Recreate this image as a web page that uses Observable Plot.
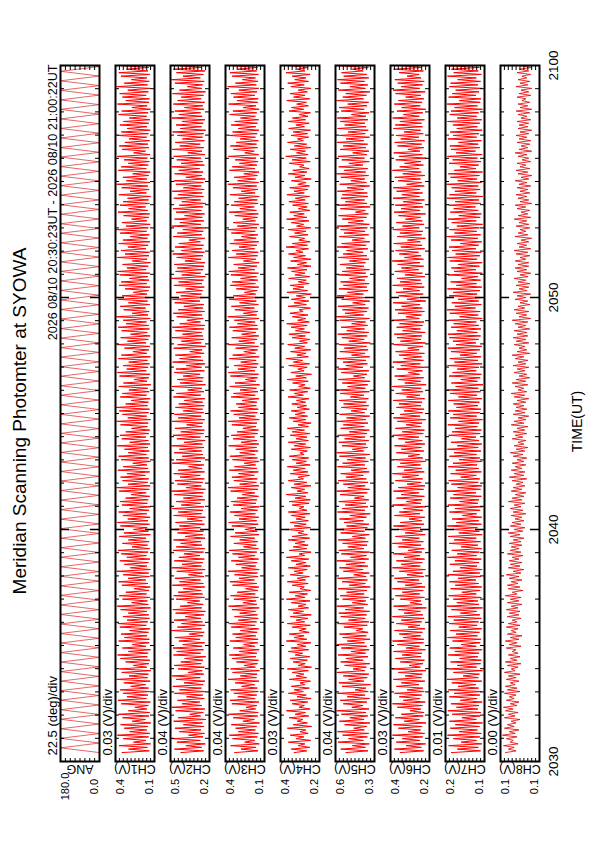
<!DOCTYPE html>
<html><head><meta charset="utf-8">
<script src="https://cdn.jsdelivr.net/npm/d3@7"></script>
<script src="https://cdn.jsdelivr.net/npm/@observablehq/plot@0.6"></script>
<style>
html,body{margin:0;padding:0;background:#fff;width:595px;height:842px;overflow:hidden;}
#rot{position:absolute;left:0;top:0;width:842px;height:595px;transform-origin:0 0;transform:translate(0px,842px) rotate(-90deg);font-family:"Liberation Sans",Arial,sans-serif;background:#fff;}
#title{position:absolute;left:0;width:842px;top:9px;text-align:center;font-size:19px;color:#000;}
#rot svg{position:absolute;left:0;}
</style></head><body>
<div id="rot"><div id="title">Meridian Scanning Photomter at SYOWA</div></div>
<script>
const headerText = "2026 08/10 20:30:23UT - 2026 08/10 21:00:22UT";
const panelNames = ["ANG","CH1(V)","CH2(V)","CH3(V)","CH4(V)","CH5(V)","CH6(V)","CH7(V)","CH8(V)"];
const divLabels = ["22.5 (deg)/div","0.03 (V)/div","0.04 (V)/div","0.04 (V)/div","0.03 (V)/div","0.04 (V)/div","0.03 (V)/div","0.01 (V)/div","0.00 (V)/div"];
const topLabels = ["180.0","0.4","0.5","0.4","0.4","0.6","0.4","0.2","0.1"];
const bottomLabels = ["0.0","0.1","0.2","0.1","0.2","0.3","0.2","0.1","0.1"];
const yMin = [0,0.1,0.2,0.1,0.2,0.3,0.2,0.1,0.09];
const yMax = [180,0.4,0.5,0.4,0.4,0.6,0.4,0.2,0.13];
const divisions = [8,10,10,10,10,10,10,10,10];
const timeTickLabels = ["2030","2040","2050","2100"];
const timeAxisLabel = "TIME(UT)";

// scan angle (deg), turning points sampled evenly from 20:30:23 to 21:00:22
const angValues = [
0,180,0,180,0,180,0,180,0,180,0,180,0,180,0,180,0,180,0,180,
0,180,0,180,0,180,0,180,0,180,0,180,0,180,0,180,0,180,0,180,
0,180,0,180,0,180,0,180,0,180,0,180,0,180,0,180,0,180,0,180,
0,180,0,180,0,180,0,180,0,180,0,180,0,180,0,180,0,180,0,180,
0,180,0,180,0,180,0,180,0,180,0,180,0,180,0,180,0,180,0,180,
0,180,0,180,0,180,0,180,0,180,0,180,0,180,0,180,0,180,0,180,
0,180,0,180,0,180,0,180,0,180,0,180,0,180,0,180,0,180,0,180,
0,180,0,180,0,180,0];

// channel samples in mV: alternating scan peak (Hi) and background (Lo)
const ch1Hi = [350,300,372,262,341,386,291,333,361,272,346,377,301,251,356,381,312,342,366,283,
336,391,296,352,371,263,322,362,384,302,347,271,376,331,357,292,367,382,311,343,
302,361,387,276,346,372,321,256,351,377,303,341,389,286,332,367,313,356,381,273,
347,301,371,336,262,362,386,306,343,376,292,351,366,322,281,372,392,303,346,361,
312,382,341,267,357,376,302,331,386,291,352,366,321,277,362,391,306,347,371,396,
322,281,364,348,297,375,339,258,369,386,314,342,298,378,355,266,331,388,309,361,
284,353,379,318,341,392,272,337,364,301,382,349,263,326,373,357,293,368,384,312,
346,271,389,327,358,305,376,343,287,364,395,319,351,276,338,381,299,366,342,308,
374,288,352,391,316,343,268,379,357,302,335,387,261,349,372,328,296,383,355,311,
366,339,294,377,352,274,385,321,347,368,306,393,333,279,358,374,315,345,389,302];
const ch1Lo = [140,155,130,165,145,135,160,150,128,170,142,138,158,148,132,162,150,137,145,168,
133,152,147,129,160,143,136,155,149,131,166,141,139,157,146,134,163,151,138,144,
159,130,148,154,136,161,142,133,150,167,139,145,131,158,147,135,162,149,137,153,
141,165,132,146,156,138,150,134,160,143,129,155,148,136,164,140,133,152,145,170,
137,149,158,131,144,162,139,151,134,147,166,142,136,155,148,130,160,145,138,153,
146,133,161,140,152,128,157,144,135,163,149,138,154,131,159,143,136,165,147,134,
156,139,145,162,132,150,141,168,137,153,129,158,146,134,160,142,151,136,164,148,
131,157,143,138,166,149,135,154,140,161,147,133,159,144,137,152,168,139,145,130,
162,141,150,136,158,145,132,163,148,139,155,134,169,143,151,137,160,146,133,157,
144,135,160,149,131,156,142,138,164,147,134,153,140,159,136,150,145,132,161,143];
const ch2Hi = [420,470,382,451,486,361,432,466,401,476,441,352,461,491,412,446,377,471,431,482,
396,456,487,366,442,472,421,391,477,452,481,406,436,467,356,492,447,416,472,386,
461,482,426,371,457,476,442,402,486,431,466,362,452,490,411,471,436,397,481,456,
422,477,387,446,491,432,462,372,476,441,486,417,457,401,471,492,381,447,466,426,
476,442,361,486,457,411,472,432,491,396,451,481,421,466,376,487,441,471,402,462,
437,394,478,455,368,489,426,447,403,472,458,379,484,431,463,352,476,445,417,490,
408,463,486,429,374,452,479,441,397,468,487,421,456,383,474,438,492,414,461,447,
471,389,452,483,417,466,436,358,479,448,405,487,428,469,392,457,481,433,413,475,
443,486,401,459,474,382,468,437,491,418,452,476,367,488,429,463,409,447,484,425,
458,412,489,436,467,393,478,445,418,485,431,371,466,492,404,454,479,427,461,439];
const ch2Lo = [245,260,232,270,250,238,265,242,255,230,268,247,236,258,274,240,252,233,262,248,
235,271,244,256,239,263,250,229,267,246,257,237,272,249,241,261,234,254,266,243,
231,259,248,275,238,253,264,236,247,269,242,255,233,262,250,240,273,245,237,258,
265,234,251,246,270,239,256,232,261,249,243,268,236,254,247,231,263,252,240,271,
238,257,244,266,235,250,260,242,255,233,269,246,239,258,251,236,264,244,253,240,
252,237,267,243,259,230,254,247,272,239,261,234,249,266,241,256,228,263,245,251,
260,243,235,269,248,257,238,251,244,273,236,262,253,240,258,246,231,267,249,242,
234,264,250,239,257,245,270,237,259,248,232,266,243,255,238,262,251,229,268,246,
256,241,263,247,233,259,249,276,240,252,265,236,258,244,271,239,254,245,230,261,
248,235,257,268,242,251,237,264,246,231,259,253,240,270,247,234,262,250,243,256];
const ch3Hi = [330,281,361,252,346,371,301,322,356,266,341,376,291,242,351,366,306,336,361,276,
326,381,286,346,362,256,316,351,371,296,341,261,366,321,346,286,356,376,301,331,
291,351,376,266,336,361,311,246,346,366,296,331,381,276,321,356,301,346,371,261,
336,291,361,326,251,351,376,296,331,366,281,341,356,311,271,361,381,291,336,351,
301,371,331,256,346,366,291,321,376,281,341,356,311,266,351,381,296,336,361,301,
318,272,357,339,288,368,327,247,362,378,305,334,283,371,345,259,322,379,298,352,
276,344,369,308,332,383,263,328,355,292,373,340,254,317,364,348,284,359,375,303,
337,262,380,318,349,296,367,334,278,355,384,310,342,267,329,372,290,357,333,299,
365,279,343,382,307,334,259,370,348,293,326,378,252,340,363,319,287,374,346,302,
357,330,285,368,343,265,376,312,338,359,297,383,324,270,349,365,306,336,380,293];
const ch3Lo = [150,165,140,175,155,145,170,160,138,178,152,148,168,158,142,172,160,147,155,176,
143,162,157,139,170,153,146,165,159,141,174,151,149,167,156,144,171,161,148,154,
169,140,158,164,146,171,152,143,160,177,149,155,141,168,157,145,172,159,147,163,
151,175,142,156,166,148,160,144,170,153,139,165,158,146,174,150,143,162,155,178,
147,159,168,141,154,172,149,161,144,157,176,152,146,165,158,140,170,155,148,163,
158,143,171,150,162,138,167,154,145,173,159,148,164,141,169,153,146,175,157,144,
166,149,155,172,142,160,151,178,147,163,139,168,156,144,170,152,161,146,174,158,
141,167,153,148,176,159,145,164,150,171,157,143,169,154,147,162,179,149,155,140,
172,151,160,146,168,155,142,173,158,149,165,144,179,153,161,147,170,156,143,167,
154,145,170,159,141,166,152,148,174,157,144,163,150,169,146,160,155,142,171,153];
const ch4Hi = [330,345,310,360,320,350,300,365,335,315,355,325,370,305,340,350,315,360,330,345,
300,355,320,340,365,310,335,350,325,360,345,315,370,330,355,305,340,365,320,350,
335,360,310,345,370,325,355,300,340,365,315,350,330,360,320,345,370,305,355,335,
325,360,340,310,365,330,350,320,345,360,305,340,355,325,370,315,345,330,360,310,
350,335,365,320,340,355,300,345,330,360,320,350,340,365,310,335,355,325,345,315,
342,318,361,329,353,307,338,366,322,347,311,358,334,372,316,349,327,363,303,341,
357,323,346,368,312,339,352,304,361,331,344,319,367,336,351,309,358,326,343,364,
314,348,333,359,321,371,340,306,354,328,362,317,345,369,332,352,308,338,357,324,
367,331,353,311,344,326,360,337,302,355,341,373,318,350,329,364,313,346,335,358,
321,362,339,305,356,344,317,368,333,351,310,347,363,327,340,372,315,354,330,349];
const ch4Lo = [265,250,275,245,280,258,270,240,262,285,255,272,248,278,260,243,268,283,252,275,
246,266,280,257,241,273,262,250,286,255,270,244,265,279,253,268,247,276,260,242,
282,256,269,249,274,261,245,278,258,271,252,284,263,247,270,255,276,243,266,258,
275,250,262,281,246,268,257,273,249,264,280,253,247,270,260,276,244,265,282,251,
259,273,248,267,255,279,262,246,271,257,264,250,277,256,243,269,261,275,252,266,
271,254,283,260,247,274,258,267,241,279,263,251,286,257,269,245,276,262,249,272,
248,277,263,252,270,259,284,246,267,255,273,242,261,280,253,268,250,274,264,244,
266,243,272,285,256,262,248,276,259,270,245,281,254,265,278,249,263,257,273,251,
278,260,251,269,242,275,264,253,280,247,268,258,272,244,266,283,255,261,246,277,
253,271,259,246,281,257,267,250,274,262,243,278,256,269,248,275,260,252,284,263];
const ch5Hi = [520,560,470,580,500,545,585,460,530,570,490,555,590,475,540,565,510,585,450,550,
575,500,540,590,465,530,560,520,580,480,555,590,510,545,570,440,535,585,500,560,
575,525,590,470,545,565,515,580,495,550,585,460,540,570,520,590,485,555,575,505,
545,580,470,560,590,515,535,570,490,585,550,525,575,455,565,590,505,540,580,520,
560,480,585,545,510,570,590,470,550,575,530,585,495,560,540,590,515,570,480,555,
538,572,486,563,591,507,548,579,463,556,584,521,542,588,477,567,532,574,498,551,
583,514,557,476,569,593,527,546,581,468,553,587,509,574,539,562,492,578,548,517,
566,493,579,541,516,588,553,472,572,534,561,589,502,549,577,446,563,585,524,558,
547,586,511,568,482,559,592,533,576,497,552,581,468,565,541,589,519,571,503,584,
529,564,587,478,556,573,506,591,544,521,578,489,562,585,537,554,471,582,547,568];
const ch5Lo = [350,370,340,385,355,345,378,360,335,380,352,365,342,388,358,338,372,348,366,330,
382,356,344,375,362,336,386,350,368,341,359,377,334,363,349,389,355,343,371,360,
337,384,353,367,346,379,358,332,370,354,364,340,387,351,373,345,361,336,381,357,
348,369,339,376,355,342,385,362,333,374,351,366,344,380,356,338,371,349,363,386,
341,359,374,347,368,335,383,353,365,344,372,357,340,378,350,367,337,376,358,345,
363,347,381,339,370,352,334,375,358,343,388,354,366,337,372,349,361,333,379,356,
344,376,352,368,338,383,357,346,371,336,362,385,349,359,341,374,353,367,339,381,
369,342,358,387,351,364,336,377,345,372,355,339,384,361,347,370,334,357,376,350,
355,381,337,362,374,346,368,352,389,340,377,359,343,366,353,383,338,371,348,364,
373,350,366,341,379,357,345,384,362,335,369,351,376,344,360,387,347,365,339,354];
const ch6Hi = [350,380,320,370,340,390,310,360,385,330,375,345,300,365,390,335,355,380,315,370,
345,385,325,360,390,305,350,375,340,385,320,365,390,335,355,380,310,370,345,390,
330,360,385,300,350,375,340,390,325,365,380,315,355,390,345,370,330,385,310,360,
390,340,375,325,365,385,350,305,380,355,335,390,320,370,345,385,360,315,375,340,
390,330,365,350,385,310,370,345,380,325,360,390,340,375,320,365,385,350,330,370,
357,386,318,373,342,391,327,362,379,308,368,347,388,333,356,374,312,383,349,366,
381,338,369,354,392,321,361,377,343,386,316,358,372,336,389,351,367,326,378,344,
363,391,329,355,374,347,384,313,366,352,388,339,371,323,359,382,346,376,335,387,
342,369,386,317,361,378,337,390,353,328,373,357,384,311,364,379,348,372,331,385,
376,352,389,334,367,343,381,359,322,374,387,345,363,378,315,356,384,339,368,350];
const ch6Lo = [230,242,220,250,235,225,246,238,218,252,232,228,244,236,222,248,240,227,234,254,
224,241,237,219,247,233,226,243,239,221,251,231,229,245,236,223,249,240,228,234,
246,216,238,243,226,250,232,223,240,253,229,235,221,247,237,225,248,239,227,243,
231,252,222,236,245,228,240,224,249,233,218,244,238,226,253,230,223,242,235,255,
227,239,246,220,234,250,229,241,224,237,254,232,226,244,238,219,248,235,228,243,
238,225,249,233,242,217,245,230,251,236,223,247,231,240,226,253,234,221,244,239,
222,246,235,228,252,241,226,237,248,219,243,232,250,227,239,245,224,236,255,230,
249,231,243,256,225,238,247,221,240,234,252,228,237,245,220,248,233,241,226,251,
235,250,227,239,246,223,242,253,231,244,218,237,249,229,240,225,254,232,245,236,
241,226,252,234,219,247,238,229,245,222,250,236,227,243,253,231,239,248,224,237];
const ch7Hi = [185,170,192,160,180,195,165,188,175,190,158,183,194,172,186,162,190,178,193,168,
184,196,155,180,191,170,187,164,193,176,189,160,182,195,173,188,166,191,179,194,
162,185,196,171,180,192,158,187,175,190,168,194,181,163,189,176,195,170,184,160,
191,178,193,166,186,195,172,183,157,190,176,194,164,188,180,196,169,185,192,161,
187,174,193,181,165,190,178,195,170,186,159,192,183,175,194,167,188,180,193,172,
179,193,167,188,196,174,185,161,191,182,170,195,177,189,163,186,194,173,181,190,
194,171,186,179,192,164,189,196,176,184,168,191,180,195,172,187,159,193,178,185,
168,189,195,174,183,191,162,186,197,177,190,171,184,194,166,188,179,192,175,196,
190,176,184,197,169,187,193,178,163,191,182,195,173,186,189,167,194,180,188,171,
181,195,170,189,186,177,196,165,192,183,174,190,187,169,195,179,185,193,176,188];
const ch7Lo = [110,116,107,120,112,108,118,113,105,121,111,109,117,114,106,119,112,108,115,122,
107,116,113,105,120,110,108,117,114,106,121,111,109,118,113,107,119,115,108,112,
120,105,114,117,108,121,111,107,115,122,109,112,106,119,114,108,120,113,107,117,
110,121,106,113,118,108,115,107,120,111,105,117,114,108,122,110,107,116,112,121,
108,115,119,106,112,120,109,116,107,114,122,111,108,118,114,105,120,112,109,117,
113,107,119,110,116,104,118,111,108,121,114,106,117,109,120,112,107,122,115,110,
118,109,114,121,106,116,111,123,108,115,105,119,112,107,120,110,117,106,122,113,
106,119,112,108,122,115,107,117,110,120,113,105,121,111,108,116,123,109,114,104,
121,111,116,107,119,113,105,122,115,109,118,106,123,112,116,108,120,114,106,118,
112,107,120,115,105,118,111,109,122,114,106,117,110,121,108,116,113,105,119,111];
const ch8Hi = [125,122,127,120,124,128,121,126,123,119,126,122,125,127,120,124,121,126,123,125,
120,124,122,126,119,123,125,120,122,118,124,121,125,120,123,119,124,122,118,123,
121,124,119,123,120,125,118,122,123,119,121,124,117,122,120,121,118,123,120,119,
121,117,120,122,116,120,118,115,119,117,120,116,122,118,115,119,117,114,118,121,
116,119,115,118,113,117,120,114,116,112,118,115,117,113,119,116,112,117,115,114,
117,113,116,119,112,115,118,114,111,116,113,117,112,115,118,113,111,116,114,117,
113,116,112,115,118,111,114,116,112,110,115,113,117,111,114,112,116,110,113,115,
112,115,110,114,116,111,113,109,115,112,110,114,111,116,112,109,113,115,110,112,
114,110,113,111,115,109,112,114,110,113,108,112,115,111,109,113,111,114,110,112,
111,113,109,112,114,110,112,108,113,111,109,114,110,112,108,113,111,109,112,110];
const ch8Lo = [114,116,112,117,113,115,111,116,114,110,115,112,117,113,111,116,114,110,113,115,
111,114,110,115,112,109,113,110,112,114,109,113,111,108,114,112,110,113,109,111,
110,112,108,111,109,113,107,110,112,108,111,109,106,110,108,111,107,109,111,108,
109,106,110,107,105,109,106,108,104,107,109,105,108,106,104,108,105,107,103,106,
105,108,104,106,103,107,105,102,106,104,107,103,105,102,106,104,101,105,103,106,
104,101,105,103,106,102,104,100,103,105,101,104,102,106,100,103,105,101,104,102,
103,100,104,102,99,103,101,105,100,102,104,99,103,101,100,104,102,99,103,101,
101,104,100,102,99,103,101,98,102,104,100,101,103,99,102,100,104,98,101,103,
100,102,99,103,101,98,102,100,104,99,101,103,98,102,100,99,103,101,98,102,
101,99,103,100,98,102,100,104,99,101,98,102,100,103,99,101,98,102,100,101];

const chHi = [ch1Hi,ch2Hi,ch3Hi,ch4Hi,ch5Hi,ch6Hi,ch7Hi,ch8Hi];
const chLo = [ch1Lo,ch2Lo,ch3Lo,ch4Lo,ch5Lo,ch6Lo,ch7Lo,ch8Lo];

const t0 = Date.UTC(2026,7,10,20,30,23), t1 = Date.UTC(2026,7,10,21,0,22);
const xStart = new Date(Date.UTC(2026,7,10,20,30,0)), xEnd = new Date(Date.UTC(2026,7,10,21,0,0));
function toSeries(vals, k){const n=vals.length;return vals.map((v,i)=>({t:new Date(t0+(t1-t0)*i/(n-1)),v:v*k}));}
function interleave(a,b){const o=[];for(let i=0;i<a.length;i++){o.push(a[i],b[i]);}return o;}
const seriesList = [toSeries(angValues,1)].concat(chHi.map((h,k)=>toSeries(interleave(h,chLo[k]),0.001)));

const W=842, ML=80, MR=66, PH=39, IW=W-ML-MR;
const allMinutes = d3.utcMinute.range(xStart, xEnd).filter(d=>+d>+xStart);
const minorTicks = allMinutes.filter(d=>d.getUTCMinutes()%10!==0);
const majorTicks = allMinutes.filter(d=>d.getUTCMinutes()%10===0);
const labelTicks = [xStart].concat(majorTicks,[xEnd]);
const font = "Liberation Sans, Arial, sans-serif";
const rot = document.getElementById("rot");

seriesList.forEach((series,i)=>{
  const isFirst=i===0, isLast=i===8;
  const mt=22, mb=isLast?50:2;
  const vt=d3.range(1,divisions[i]).map(k=>yMin[i]+k*(yMax[i]-yMin[i])/divisions[i]);
  const lineStyle = i===0 ? {stroke:"#d00000",strokeWidth:0.6} : i===8 ? {stroke:"#e00000",strokeWidth:0.8} : {stroke:"#ff0000",strokeWidth:1};
  const marks=[
    Plot.line(series,{x:"t",y:"v",clip:true,...lineStyle}),
    Plot.tickY(vt,{y:d=>d,insetRight:IW-4,stroke:"#000"}),
    Plot.tickY(vt,{y:d=>d,insetLeft:IW-4,stroke:"#000"}),
    Plot.tickX(minorTicks,{x:d=>d,insetBottom:PH-4,stroke:"#000"}),
    Plot.tickX(minorTicks,{x:d=>d,insetTop:PH-4,stroke:"#000"}),
    Plot.tickX(majorTicks,{x:d=>d,insetBottom:PH-9,stroke:"#000",strokeWidth:1.5}),
    Plot.tickX(majorTicks,{x:d=>d,insetTop:PH-9,stroke:"#000",strokeWidth:1.5}),
    Plot.frame({stroke:"#000",strokeWidth:2}),
    Plot.text([divLabels[i]],{text:d=>d,frameAnchor:"top-left",dx:6,dy:-4,lineAnchor:"bottom",textAnchor:"start",fontSize:13,fill:"#000"}),
    Plot.text([topLabels[i]],{text:d=>d,frameAnchor:"top-left",dx:-25,dy:5,lineAnchor:"middle",textAnchor:"middle",fontSize:11,fill:"#000"}),
    Plot.text([bottomLabels[i]],{text:d=>d,frameAnchor:"bottom-left",dx:-25,dy:-5,lineAnchor:"middle",textAnchor:"middle",fontSize:11,fill:"#000"}),
    Plot.text([panelNames[i]],{text:d=>d,frameAnchor:"left",dx:-7,rotate:-90,lineAnchor:"middle",textAnchor:"middle",fontSize:12.5,fill:"#000"})
  ];
  if(isFirst){
    marks.push(Plot.text([headerText],{text:d=>d,frameAnchor:"top-right",dx:1,dy:-4,lineAnchor:"bottom",textAnchor:"end",fontSize:12.6,fill:"#000"}));
  }
  if(isLast){
    marks.push(Plot.text(labelTicks,{x:d=>d,text:(d,j)=>timeTickLabels[j],frameAnchor:"bottom",dy:18,lineAnchor:"bottom",textAnchor:"middle",fontSize:13.5,fill:"#000"}));
    marks.push(Plot.text([timeAxisLabel],{text:d=>d,frameAnchor:"bottom",dx:-8,dy:42,lineAnchor:"bottom",textAnchor:"middle",fontSize:14,fill:"#000"}));
  }
  const svg=Plot.plot({
    width:W,height:mt+PH+mb,marginLeft:ML,marginRight:MR,marginTop:mt,marginBottom:mb,
    style:{fontFamily:font,background:"transparent",overflow:"visible"},
    x:{type:"utc",domain:[xStart,xEnd],axis:null},
    y:{domain:[yMin[i],yMax[i]],axis:null},
    marks
  });
  svg.style.position="absolute";
  svg.style.left="0px";
  svg.style.top=(60+55*i-mt)+"px";
  svg.style.overflow="visible";
  rot.appendChild(svg);
});
</script>
</body></html>
